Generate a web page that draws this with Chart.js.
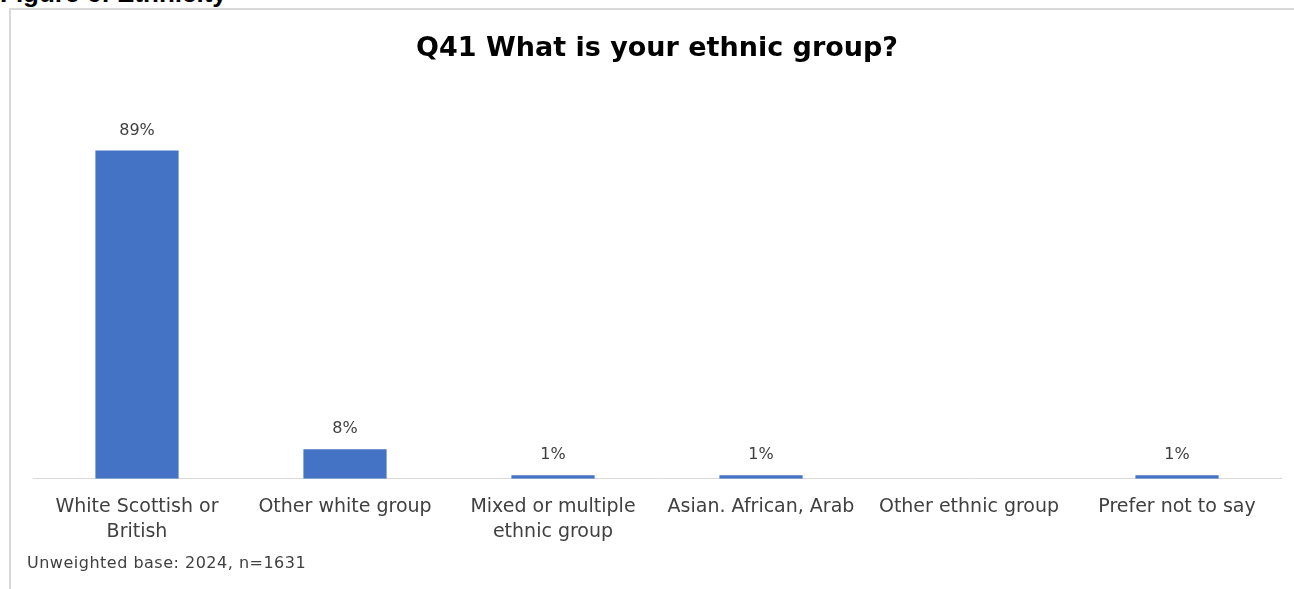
<!DOCTYPE html>
<html>
<head>
<meta charset="utf-8">
<script src="https://cdn.jsdelivr.net/npm/chart.js@4/dist/chart.umd.min.js"></script>
<style>
  html, body { margin: 0; padding: 0; background: #fff; }
  body { width: 1294px; height: 589px; position: relative; overflow: hidden; }
  .fig-heading {
    position: absolute; left: 0; top: -22px;
    font: bold 26px "Liberation Sans", Arial, sans-serif; color: #000;
  }
  .frame {
    position: absolute; left: 9px; top: 8px; width: 1290px; height: 600px;
    border-left: 2px solid #d9d9d9; border-top: 2px solid #d9d9d9;
  }
  .chart-box { position: absolute; left: 11px; top: 10px; width: 1283px; height: 579px; }
  .base-note {
    position: absolute; left: 27px; top: 553px;
    font: 16px "DejaVu Sans", sans-serif; color: #404040; letter-spacing: 0.5px;
  }
</style>
</head>
<body>
<div class="fig-heading">Figure 6: Ethnicity</div>
<div class="frame"></div>
<div class="chart-box"><canvas id="ethnicChart"></canvas></div>
<div class="base-note">Unweighted base: 2024, n=1631</div>

<script>
const categories = [
    ['White Scottish or', 'British'],
    'Other white group',
    ['Mixed or multiple', 'ethnic group'],
    'Asian. African, Arab',
    'Other ethnic group',
    'Prefer not to say',
];
const percents = [89, 8, 1, 1, 0, 1];

const TEXT = '#404040';
const FONT = '"DejaVu Sans", sans-serif';

// draws the "NN%" label above each non-zero bar
const valueLabels = {
    id: 'valueLabels',
    afterDatasetsDraw(chart) {
        const { ctx } = chart;
        const meta = chart.getDatasetMeta(0);
        ctx.save();
        ctx.font = '16px ' + FONT;
        ctx.fillStyle = TEXT;
        ctx.textAlign = 'center';
        ctx.textBaseline = 'middle';
        meta.data.forEach((bar, i) => {
            const v = percents[i];
            if (!v) return;
            ctx.fillText(v + '%', bar.x, bar.y - 20);
        });
        ctx.restore();
    },
};

new Chart(document.getElementById('ethnicChart'), {
    type: 'bar',
    data: {
        labels: categories,
        datasets: [{
            data: percents,
            backgroundColor: '#4472c4',
            barPercentage: 0.4,
            categoryPercentage: 1,
        }],
    },
    options: {
        responsive: true,
        maintainAspectRatio: false,
        animation: false,
        layout: { padding: { left: 22, right: 13, top: 0, bottom: 28 } },
        plugins: {
            legend: { display: false },
            tooltip: { enabled: false },
            title: {
                display: true,
                text: 'Q41 What is your ethnic group?',
                color: '#000',
                font: { family: FONT, size: 27, weight: 'bold' },
                padding: { top: 22.5, bottom: 45 },
            },
        },
        scales: {
            x: {
                grid: { display: false, drawTicks: false },
                border: { display: true, color: '#d9d9d9', width: 1 },
                ticks: {
                    color: TEXT,
                    font: { family: FONT, size: 19, lineHeight: 1.32 },
                    padding: 16,
                    maxRotation: 0,
                    autoSkip: false,
                },
            },
            y: {
                display: false,
                min: 0,
                max: 100,
            },
        },
    },
    plugins: [valueLabels],
});
</script>
</body>
</html>
